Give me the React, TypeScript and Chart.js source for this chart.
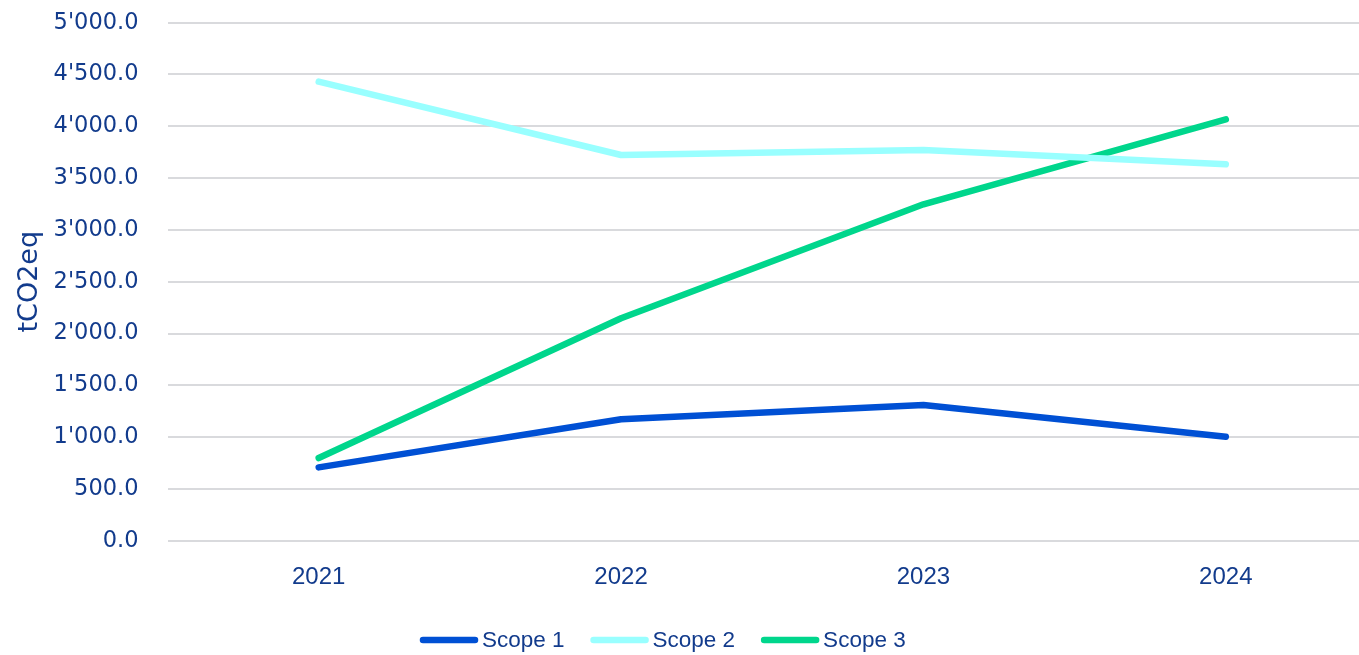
import React, { useEffect, useRef } from "react";
import { Chart, registerables } from "chart.js";

Chart.register(...registerables);

const categories = ["2021", "2022", "2023", "2024"];
const scope1 = [708, 1172, 1310, 1004];
const scope2 = [4431, 3723, 3771, 3633];
const scope3 = [798, 2147, 3247, 4067];
const seriesLabels = ["Scope 1", "Scope 2", "Scope 3"];
const seriesColors = ["#0050D4", "#99FFFF", "#00D68C"];
const yMin = 0;
const yMax = 5000;
const yStep = 500;
const yTitle = "tCO2eq";

const TEXT = "#123B8C";
const GRID = "#D9DADD";

function fmt(v: number): string {
  const s = Math.abs(v).toFixed(1);
  const [i, d] = s.split(".");
  const withSep = i.replace(/\B(?=(\d{3})+(?!\d))/g, "'");
  return (v < 0 ? "-" : "") + withSep + "." + d;
}

const legendPlugin = {
  id: "customLegend",
  afterDraw(chart: any) {
    const ctx = chart.ctx;
    const font = "22.5px 'Liberation Sans', sans-serif";
    ctx.save();
    ctx.font = font;
    ctx.textBaseline = "middle";
    ctx.textAlign = "left";
    const y = 640;
    let x = 420;
    const lineLen = 58;
    const gap = 4;
    const itemGap = 26;
    chart.data.datasets.forEach((ds: any) => {
      ctx.strokeStyle = ds.borderColor;
      ctx.lineWidth = 6.5;
      ctx.lineCap = "round";
      ctx.beginPath();
      ctx.moveTo(x + 3, y);
      ctx.lineTo(x + lineLen - 3, y);
      ctx.stroke();
      x += lineLen + gap;
      ctx.fillStyle = TEXT;
      ctx.fillText(ds.label, x, y + 1);
      x += ctx.measureText(ds.label).width + itemGap;
    });
    ctx.restore();
  },
};

export default function App() {
  const ref = useRef<HTMLCanvasElement | null>(null);
  useEffect(() => {
    if (!ref.current) return;
    const seriesData = [scope1, scope2, scope3];
    const chart = new Chart(ref.current, {
      type: "line",
      data: {
        labels: categories,
        datasets: seriesData.map((d, i) => ({
          label: seriesLabels[i],
          data: d,
          borderColor: seriesColors[i],
          backgroundColor: seriesColors[i],
          borderWidth: 6.5,
          pointRadius: 0,
          pointHoverRadius: 0,
          tension: 0,
          borderCapStyle: "round" as const,
          borderJoinStyle: "round" as const,
          fill: false,
        })),
      },
      options: {
        responsive: false,
        animation: false,
        layout: { padding: { left: 0, right: 3, top: 22.7, bottom: 0 } },
        plugins: {
          legend: { display: false },
          tooltip: { enabled: false },
        },
        scales: {
          x: {
            type: "category",
            offset: true,
            grid: { display: false, drawTicks: false },
            border: { display: false },
            ticks: {
              color: TEXT,
              padding: 22,
              font: { family: "'Liberation Sans', sans-serif", size: 24 },
            },
            afterFit: (s: any) => {
              s.height = 655 - 540.7;
              s.paddingLeft = 0;
              s.paddingRight = 0;
            },
          },
          y: {
            min: yMin,
            max: yMax,
            grid: { color: GRID, lineWidth: 2, drawTicks: false },
            border: { display: false },
            ticks: {
              stepSize: yStep,
              color: TEXT,
              padding: 29,
              font: { family: "'DejaVu Sans', sans-serif", size: 22.5 },
              callback: (v: any) => fmt(Number(v)),
            },
            title: {
              display: true,
              text: yTitle,
              color: TEXT,
              padding: { top: 14, bottom: 0 },
              font: { family: "'DejaVu Sans', sans-serif", size: 27 },
            },
            afterFit: (s: any) => {
              s.width = 167.5;
              s.paddingTop = 0;
              s.paddingBottom = 0;
            },
          },
        },
      },
      plugins: [legendPlugin],
    });
    return () => chart.destroy();
  }, []);
  return (
    <div
      style={{
        position: "fixed",
        left: 0,
        top: 0,
        width: 1359,
        height: 655,
        overflow: "hidden",
        background: "#fff",
      }}
    >
      <canvas ref={ref} width={1380} height={655} style={{ width: 1380, height: 655, display: "block" }} />
    </div>
  );
}
